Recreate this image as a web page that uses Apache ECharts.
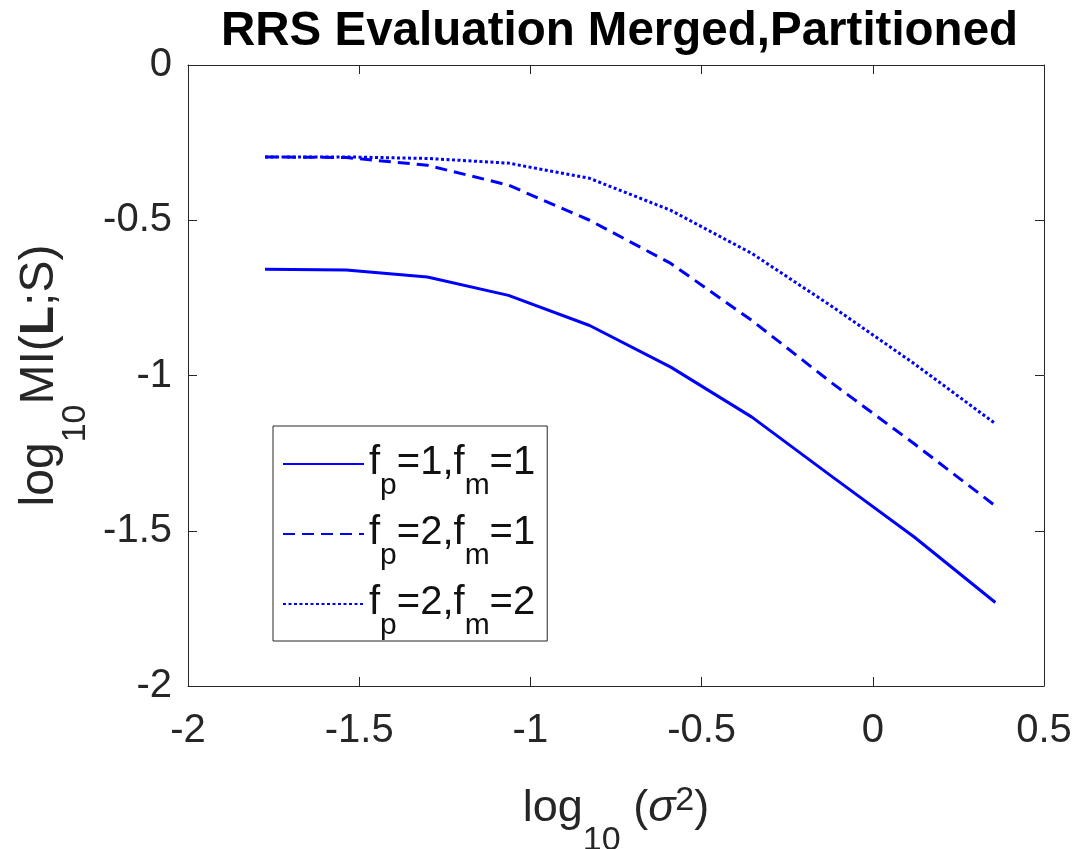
<!DOCTYPE html>
<html>
<head>
<meta charset="utf-8">
<script src="https://cdn.jsdelivr.net/npm/echarts@6/dist/echarts.min.js"></script>
<style>
  html, body { margin: 0; padding: 0; background: #fff; }
  #chart { width: 1083px; height: 849px; }
</style>
</head>
<body>
<div id="chart"></div>
<script>
// log10(sigma^2) sample points
const xValues = [-1.775, -1.538, -1.301, -1.064, -0.827, -0.590, -0.353, -0.116, 0.121, 0.358];
// log10 MI(L;S) for each setting
const fp1fm1 = [-0.658, -0.660, -0.683, -0.742, -0.839, -0.973, -1.134, -1.328, -1.520, -1.731];
const fp2fm1 = [-0.296, -0.298, -0.323, -0.387, -0.500, -0.639, -0.823, -1.027, -1.220, -1.420];
const fp2fm2 = [-0.296, -0.296, -0.301, -0.316, -0.365, -0.468, -0.607, -0.780, -0.962, -1.155];

const seriesNames = ['fp=1,fm=1', 'fp=2,fm=1', 'fp=2,fm=2'];
const legendLabels = [
  '{b|f}{s|p}{b|=1,f}{s|m}{b|=1}',
  '{b|f}{s|p}{b|=2,f}{s|m}{b|=1}',
  '{b|f}{s|p}{b|=2,f}{s|m}{b|=2}'
];

const font = "'Liberation Sans', Arial, Helvetica, sans-serif";
const ink = '#262626';
const blue = '#0000ff';

function pairs(ys) {
  return xValues.map((x, i) => [x, ys[i]]);
}

const chart = echarts.init(document.getElementById('chart'));

const axisCommon = {
  type: 'value',
  axisLine: { show: true, onZero: false, lineStyle: { color: ink, width: 1 } },
  axisTick: { show: true, inside: true, length: 9, lineStyle: { color: ink, width: 1 } },
  splitLine: { show: false }
};

chart.setOption({
  animation: false,
  backgroundColor: '#fff',
  textStyle: { fontFamily: font },
  title: {
    text: 'RRS Evaluation Merged,Partitioned',
    left: 221,
    top: 8,
    padding: 0,
    textStyle: { fontFamily: font, fontSize: 47.5, fontWeight: 'bold', color: '#000' }
  },
  grid: { left: 188, right: 39, top: 65, bottom: 163, outerBoundsMode: 'none' },
  legend: {
    orient: 'vertical',
    left: 273,
    top: 426,
    padding: [17, 12, 0, 9],
    itemGap: 12,
    itemWidth: 81,
    itemHeight: 14,
    backgroundColor: '#fff',
    borderColor: ink,
    borderWidth: 1,
    borderRadius: 0,
    itemStyle: { opacity: 0 },
    data: seriesNames,
    formatter: function (name) {
      return legendLabels[seriesNames.indexOf(name)];
    },
    textStyle: {
      color: '#000',
      rich: {
        b: { fontFamily: font, fontSize: 40, color: '#111', lineHeight: 42, verticalAlign: 'top' },
        s: { fontFamily: font, fontSize: 30, color: '#111', lineHeight: 22, padding: [28, 0, 0, 0], verticalAlign: 'top' }
      }
    }
  },
  xAxis: [
    Object.assign({}, axisCommon, {
      position: 'bottom',
      min: -2, max: 0.5, interval: 0.5,
      axisLabel: { fontFamily: font, fontSize: 40, color: ink, margin: 25 },
      name: '{b|log}{s|10}{b| (}{g|σ}{p|2}{b|)}',
      nameLocation: 'middle',
      nameGap: 90,
      nameTextStyle: {
        rich: {
          b: { fontFamily: font, fontSize: 45, color: ink, lineHeight: 50, padding: [10, 0, 0, 0], verticalAlign: 'top' },
          g: { fontFamily: font, fontSize: 45, fontStyle: 'italic', color: ink, lineHeight: 50, padding: [10, 0, 0, 0], verticalAlign: 'top' },
          s: { fontFamily: font, fontSize: 34, color: ink, lineHeight: 24, padding: [48, 0, 0, 0], verticalAlign: 'top' },
          p: { fontFamily: font, fontSize: 34, color: ink, lineHeight: 30, padding: [8, 0, 0, 0], verticalAlign: 'top' }
        }
      }
    }),
    Object.assign({}, axisCommon, {
      position: 'top',
      min: -2, max: 0.5, interval: 0.5,
      axisLabel: { show: false }
    })
  ],
  yAxis: [
    Object.assign({}, axisCommon, {
      position: 'left',
      min: -2, max: 0, interval: 0.5,
      axisLabel: { fontFamily: font, fontSize: 40, color: ink, margin: 16 },
      name: '{b|log}{s|10}{b|MI(}{k|L}{b|;S)}',
      nameLocation: 'middle',
      nameRotate: 90,
      nameGap: 111,
      nameTextStyle: {
        rich: {
          b: { fontFamily: font, fontSize: 48, color: ink, lineHeight: 50, verticalAlign: 'top' },
          k: { fontFamily: font, fontSize: 48, fontWeight: 'bold', color: ink, lineHeight: 50, verticalAlign: 'top' },
          s: { fontFamily: font, fontSize: 34, color: ink, lineHeight: 24, padding: [42, 0, 0, 0], verticalAlign: 'top' }
        }
      }
    }),
    Object.assign({}, axisCommon, {
      position: 'right',
      min: -2, max: 0, interval: 0.5,
      axisLabel: { show: false }
    })
  ],
  series: [
    {
      name: seriesNames[0], type: 'line', data: pairs(fp1fm1),
      showSymbol: false, symbol: 'none', color: blue,
      lineStyle: { color: blue, width: 3, type: 'solid' }
    },
    {
      name: seriesNames[1], type: 'line', data: pairs(fp2fm1),
      showSymbol: false, symbol: 'none', color: blue,
      lineStyle: { color: blue, width: 3, type: [12, 7] }
    },
    {
      name: seriesNames[2], type: 'line', data: pairs(fp2fm2),
      showSymbol: false, symbol: 'none', color: blue,
      lineStyle: { color: blue, width: 3, type: [3, 2.5] }
    }
  ]
});
</script>
</body>
</html>
